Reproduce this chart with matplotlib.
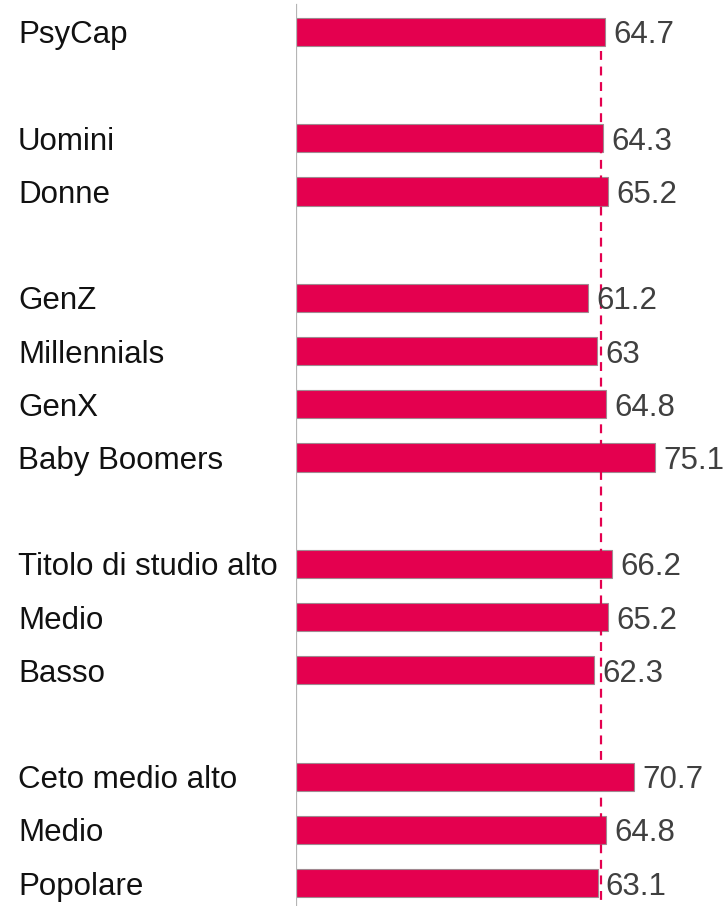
import matplotlib.pyplot as plt
from matplotlib.transforms import blended_transform_factory

# row slots (empty slots separate the groups)
categories = ["PsyCap", "", "Uomini", "Donne", "", "GenZ", "Millennials", "GenX",
              "Baby Boomers", "", "Titolo di studio alto", "Medio", "Basso", "",
              "Ceto medio alto", "Medio", "Popolare"]
values = [64.7, None, 64.3, 65.2, None, 61.2, 63, 64.8, 75.1, None,
          66.2, 65.2, 62.3, None, 70.7, 64.8, 63.1]
value_labels = ["64.7", "", "64.3", "65.2", "", "61.2", "63", "64.8", "75.1", "",
                "66.2", "65.2", "62.3", "", "70.7", "64.8", "63.1"]
reference = 63.8

plt.rcParams['font.family'] = ['Liberation Sans', 'DejaVu Sans']

fig = plt.figure(figsize=(7.27, 9.06), dpi=100)
ax = fig.add_axes([296 / 727, 0, 1 - 296 / 727, 1])

bar_color = '#E4004F'
for i, (cat, val, lab) in enumerate(zip(categories, values, value_labels)):
    if val is None:
        continue
    ax.barh(i, val, height=0.53, color=bar_color, edgecolor='#a08890', linewidth=0.8, zorder=2)
    ax.annotate(lab, (val, i), xytext=(6, 0), textcoords='offset points',
                va='center_baseline', ha='left', fontsize=22.5, color='#404040', zorder=4)

trans = blended_transform_factory(fig.transFigure, ax.transData)
for i, cat in enumerate(categories):
    if cat:
        ax.text(18 / 727, i, cat, transform=trans, ha='left', va='center_baseline',
                fontsize=22.5, color='#111111')

# dashed reference line
ax.plot([reference, reference], [0.35, 16.5], color=bar_color, linestyle=(0, (4, 3)),
        linewidth=1.6, zorder=3)

ax.set_xlim(0, 90.2)
ax.set_ylim(16.43, -0.60)
# gray axis line at zero
ax.plot([0, 0], [16.43, -0.5], color='#b5b5b5', linewidth=1.6, zorder=5)
for s in ax.spines.values():
    s.set_visible(False)
ax.set_xticks([])
ax.set_yticks([])

fig.savefig('out.png', dpi=100, facecolor='white')
